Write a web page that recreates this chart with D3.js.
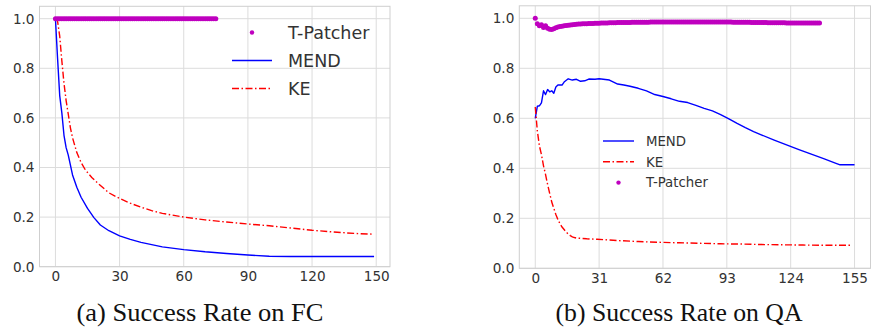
<!DOCTYPE html>
<html>
<head>
<meta charset="utf-8">
<script src="https://cdn.jsdelivr.net/npm/d3@7"></script>
<style>
  html, body { margin: 0; padding: 0; background: #fff; }
  svg { display: block; }
</style>
</head>
<body>
<svg id="chart" width="876" height="330"></svg>
<script>
// ---- (a) FC: success rate vs. number of edits ----
const fcXTicks = [0, 30, 60, 90, 120, 150];
const fcMendX = [0, 1, 2, 3, 4, 5, 6, 8, 10, 12, 15, 18, 21, 25, 30, 35, 40, 50, 60, 70, 80, 90, 100, 110, 120, 130, 140, 149];
const fcMendY = [1.0, 0.84, 0.69, 0.62, 0.53, 0.48, 0.45, 0.37, 0.32, 0.28, 0.235, 0.198, 0.168, 0.145, 0.124, 0.11, 0.098, 0.08, 0.069, 0.06, 0.053, 0.047, 0.042, 0.041, 0.041, 0.041, 0.041, 0.041];
const fcKeX = [0, 1, 2, 3, 4, 5, 6, 7, 8, 10, 12, 14, 17, 20, 25, 30, 35, 40, 45, 50, 60, 70, 80, 90, 100, 110, 120, 130, 140, 149];
const fcKeY = [1.0, 0.99, 0.93, 0.83, 0.74, 0.67, 0.615, 0.56, 0.52, 0.46, 0.42, 0.39, 0.36, 0.335, 0.298, 0.275, 0.256, 0.24, 0.226, 0.215, 0.2, 0.189, 0.18, 0.172, 0.165, 0.156, 0.147, 0.14, 0.134, 0.131];
// T-Patcher keeps every edit on FC (edits 0..75)
const fcTpY = [
  1,1,1,1,1,1,1,1,1,1, 1,1,1,1,1,1,1,1,1,1,
  1,1,1,1,1,1,1,1,1,1, 1,1,1,1,1,1,1,1,1,1,
  1,1,1,1,1,1,1,1,1,1, 1,1,1,1,1,1,1,1,1,1,
  1,1,1,1,1,1,1,1,1,1, 1,1,1,1,1,1
];

// ---- (b) QA: success rate vs. number of edits ----
const qaXTicks = [0, 31, 62, 93, 124, 155];
const qaMendX = [0, 1, 2, 3, 4, 5, 6, 7, 8, 9, 10, 11, 13, 14, 16, 18, 20, 22, 24, 26, 29, 31, 34, 36, 38, 40, 43, 46, 50, 54, 58, 62, 66, 70, 74, 78, 82, 86, 90, 94, 98, 102, 106, 110, 116, 122, 128, 134, 140, 146, 148, 155];
const qaMendY = [0.60, 0.648, 0.65, 0.662, 0.71, 0.695, 0.715, 0.706, 0.71, 0.70, 0.725, 0.733, 0.733, 0.745, 0.758, 0.753, 0.756, 0.748, 0.75, 0.757, 0.756, 0.758, 0.755, 0.753, 0.745, 0.737, 0.733, 0.728, 0.72, 0.71, 0.695, 0.687, 0.678, 0.668, 0.663, 0.652, 0.64, 0.63, 0.615, 0.598, 0.58, 0.563, 0.547, 0.533, 0.513, 0.494, 0.475, 0.457, 0.439, 0.42, 0.414, 0.414];
const qaKeX = [0, 1, 2, 3, 4, 5, 6, 7, 8, 9, 10, 11, 12, 13, 14, 15, 16, 17, 18, 19, 20, 22, 25, 30, 40, 50, 60, 70, 80, 90, 100, 110, 120, 130, 140, 150, 154];
const qaKeY = [0.645, 0.55, 0.49, 0.455, 0.41, 0.375, 0.335, 0.30, 0.265, 0.24, 0.215, 0.195, 0.178, 0.165, 0.155, 0.145, 0.137, 0.131, 0.126, 0.123, 0.121, 0.12, 0.118, 0.116, 0.111, 0.107, 0.104, 0.102, 0.10, 0.098, 0.097, 0.095, 0.094, 0.093, 0.092, 0.092, 0.092];
// T-Patcher on QA, one value per edit (edits 0..138)
const qaTpY = [
  1.000, 0.978, 0.970, 0.974, 0.963, 0.970, 0.960, 0.956, 0.955, 0.958,
  0.962, 0.965, 0.967, 0.968, 0.970, 0.971, 0.972, 0.973, 0.974, 0.975,
  0.976, 0.977, 0.977, 0.978, 0.978, 0.978, 0.979, 0.979, 0.979, 0.980,
  0.980, 0.980, 0.981, 0.981, 0.981, 0.981, 0.982, 0.982, 0.982, 0.982,
  0.983, 0.983, 0.983, 0.983, 0.983, 0.983, 0.983, 0.984, 0.984, 0.984,
  0.984, 0.984, 0.984, 0.984, 0.984, 0.984, 0.985, 0.985, 0.985, 0.985,
  0.985, 0.985, 0.985, 0.985, 0.985, 0.985, 0.985, 0.985, 0.985, 0.985,
  0.985, 0.985, 0.985, 0.985, 0.985, 0.985, 0.985, 0.985, 0.985, 0.985,
  0.985, 0.985, 0.985, 0.985, 0.985, 0.985, 0.985, 0.985, 0.985, 0.985,
  0.985, 0.985, 0.985, 0.985, 0.985, 0.985, 0.984, 0.984, 0.984, 0.984,
  0.984, 0.984, 0.984, 0.984, 0.984, 0.983, 0.983, 0.983, 0.983, 0.983,
  0.983, 0.983, 0.983, 0.982, 0.982, 0.982, 0.982, 0.982, 0.982, 0.982,
  0.982, 0.982, 0.981, 0.981, 0.981, 0.981, 0.981, 0.981, 0.981, 0.981,
  0.981, 0.981, 0.981, 0.981, 0.981, 0.981, 0.981, 0.981, 0.981
];

const yTicks = [0, 0.2, 0.4, 0.6, 0.8, 1.0];
const captions = ["(a) Success Rate on FC", "(b) Success Rate on QA"];

const COLORS = { mend: "#0000ff", ke: "#ff0000", tp: "#bf00bf" };
const KE_DASH = "7,2.5,1.5,2.5";

const svg = d3.select("#chart");

function zip(xs, ys) { return xs.map((x, i) => ({ x, y: ys[i] })); }

function drawPanel(p) {
  const x = d3.scaleLinear().domain(p.xDomain).range([p.left, p.right]);
  const y = d3.scaleLinear().domain([0, 1.05]).range([p.bottom, p.top]);
  const g = svg.append("g");

  // grid
  g.append("g").selectAll("line.vg").data(p.xTicks).join("line")
    .attr("x1", d => x(d)).attr("x2", d => x(d))
    .attr("y1", p.top).attr("y2", p.bottom)
    .attr("stroke", "#dcdcdc").attr("stroke-width", 1);
  g.append("g").selectAll("line.hg").data(yTicks).join("line")
    .attr("x1", p.left).attr("x2", p.right)
    .attr("y1", d => y(d)).attr("y2", d => y(d))
    .attr("stroke", "#dcdcdc").attr("stroke-width", 1);

  // frame
  g.append("rect")
    .attr("x", p.left).attr("y", p.top)
    .attr("width", p.right - p.left).attr("height", p.bottom - p.top)
    .attr("fill", "none").attr("stroke", "#cfcfcf").attr("stroke-width", 1);

  // axes (labels only, no tick marks)
  const xAxis = d3.axisBottom(x).tickValues(p.xTicks).tickSize(0).tickPadding(5)
    .tickFormat(d3.format("d"));
  const yAxis = d3.axisLeft(y).tickValues(yTicks).tickSize(0).tickPadding(5)
    .tickFormat(d3.format(".1f"));
  const xa = g.append("g").attr("transform", `translate(0,${p.bottom})`).call(xAxis);
  const ya = g.append("g").attr("transform", `translate(${p.left},0)`).call(yAxis);
  [xa, ya].forEach(a => {
    a.select(".domain").remove();
    a.selectAll("text")
      .attr("fill", "#333")
      .style("font-family", "'DejaVu Sans', sans-serif")
      .style("font-size", "13.6px");
  });

  const line = d3.line().x(d => x(d.x)).y(d => y(d.y));

  // MEND
  g.append("path").datum(zip(p.mendX, p.mendY))
    .attr("d", line).attr("fill", "none")
    .attr("stroke", COLORS.mend).attr("stroke-width", 1.4)
    .attr("stroke-linejoin", "round");
  // KE
  g.append("path").datum(zip(p.keX, p.keY))
    .attr("d", line).attr("fill", "none")
    .attr("stroke", COLORS.ke).attr("stroke-width", 1.4)
    .attr("stroke-dasharray", KE_DASH);
  // T-Patcher
  g.append("g").selectAll("circle").data(p.tpY.map((v, i) => ({ x: i, y: v }))).join("circle")
    .attr("cx", d => x(d.x)).attr("cy", d => y(d.y)).attr("r", 2.5)
    .attr("fill", COLORS.tp);

  // legend
  const lg = g.append("g");
  p.legend.items.forEach((key, i) => {
    const cy = p.legend.y + i * p.legend.step;
    const x0 = p.legend.x, x1 = p.legend.x + p.legend.len;
    if (key === "tp") {
      lg.append("circle").attr("cx", (x0 + x1) / 2).attr("cy", cy).attr("r", 2.2).attr("fill", COLORS.tp);
    } else {
      lg.append("line").attr("x1", x0).attr("x2", x1).attr("y1", cy).attr("y2", cy)
        .attr("stroke", COLORS[key]).attr("stroke-width", 1.4)
        .attr("stroke-dasharray", key === "ke" ? KE_DASH : null);
    }
    lg.append("text")
      .attr("x", x1 + p.legend.gap).attr("y", cy).attr("dy", "0.36em")
      .attr("fill", "#333")
      .style("font-family", "'DejaVu Sans', sans-serif")
      .style("font-size", p.legend.font + "px")
      .text({ mend: "MEND", ke: "KE", tp: "T-Patcher" }[key]);
  });

  // caption
  svg.append("text")
    .attr("x", p.captionX).attr("y", 321)
    .attr("text-anchor", "middle")
    .attr("fill", "#111")
    .style("font-family", "'Liberation Serif', 'Times New Roman', serif")
    .style("font-size", "25px")
    .attr("textLength", 247).attr("lengthAdjust", "spacingAndGlyphs")
    .text(p.caption);
}

drawPanel({
  left: 39.5, right: 390, top: 6.3, bottom: 266.7,
  xDomain: [-7.45, 156.45], xTicks: fcXTicks,
  mendX: fcMendX, mendY: fcMendY, keX: fcKeX, keY: fcKeY, tpY: fcTpY,
  legend: { items: ["tp", "mend", "ke"], x: 232, y: 32.5, step: 28, len: 40, gap: 16, font: 17.5 },
  caption: captions[0], captionX: 200
});

drawPanel({
  left: 519.3, right: 870.5, top: 5.8, bottom: 268.3,
  xDomain: [-7.75, 162.75], xTicks: qaXTicks,
  mendX: qaMendX, mendY: qaMendY, keX: qaKeX, keY: qaKeY, tpY: qaTpY,
  legend: { items: ["mend", "ke", "tp"], x: 603, y: 141, step: 20.8, len: 31, gap: 12, font: 13.3 },
  caption: captions[1], captionX: 679
});
</script>
</body>
</html>
